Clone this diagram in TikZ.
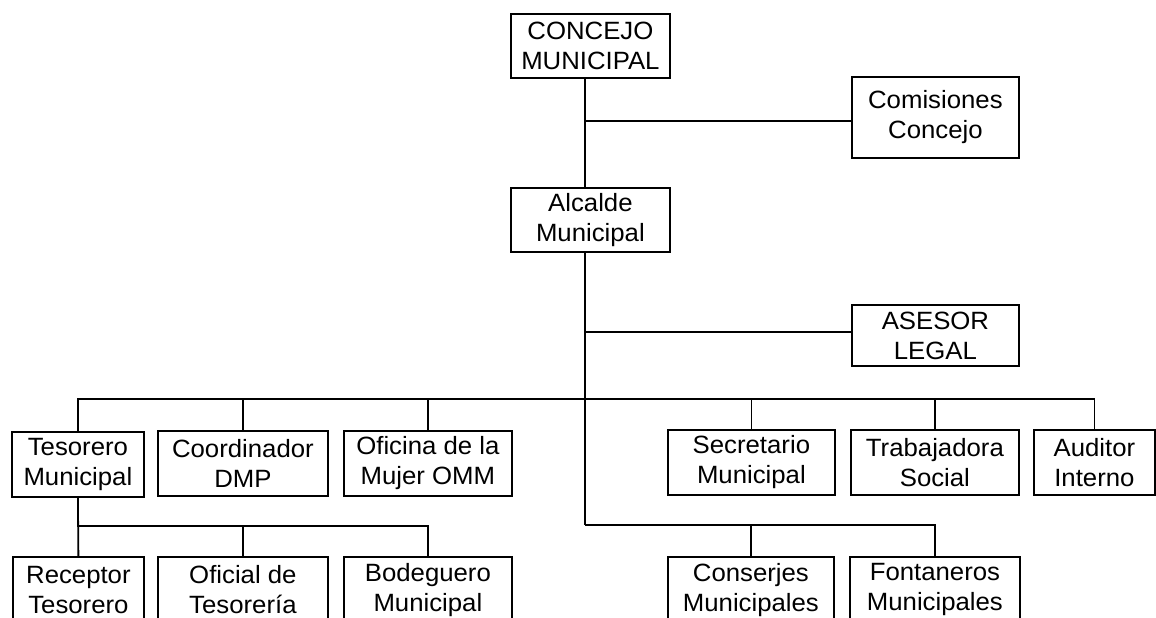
\documentclass[tikz,border=0pt]{standalone}
\usepackage{fontspec}
\setmainfont{Liberation Sans}[FakeStretch=1.03]
\begin{document}
\begin{tikzpicture}[x=1pt,y=-1pt,
  box/.style={draw, line width=1.8pt, inner sep=0pt, align=center, anchor=north west,
    font=\fontsize{25}{30}\selectfont},
  conn/.style={line width=1.8pt}]
\useasboundingbox (0,0) rectangle (1156,618);
\clip (0,0) rectangle (1156,618);
\fill[white] (0,0) rectangle (1156,618);
% top level
\node[box, minimum width=159pt, minimum height=64pt] (concejo) at (510,13) {CONCEJO\\MUNICIPAL};
\node[box, minimum width=167pt, minimum height=81pt] (comisiones) at (851,76) {Comisiones\\Concejo};
\node[box, minimum width=159pt, minimum height=64pt] (alcalde) at (510,187) {Alcalde\\Municipal};
\node[box, minimum width=167pt, minimum height=61pt] (asesor) at (851,304) {ASESOR\\LEGAL};
% second level
\node[box, minimum width=132pt, minimum height=65pt] (tesorero) at (11,431) {Tesorero\\Municipal};
\node[box, minimum width=170pt, minimum height=65pt] (coord) at (157,430) {Coordinador\\DMP};
\node[box, minimum width=168pt, minimum height=65pt] (oficina) at (343,430) {Oficina de la\\Mujer OMM};
\node[box, minimum width=167pt, minimum height=65pt] (secretario) at (667,429) {Secretario\\Municipal};
\node[box, minimum width=168pt, minimum height=65pt] (trabajadora) at (850,429) {Trabajadora\\Social};
\node[box, minimum width=121pt, minimum height=65pt] (auditor) at (1033,429) {Auditor\\Interno};
% third level
\node[box, minimum width=131pt, minimum height=66pt] (receptor) at (12,556) {Receptor\\Tesorero};
\node[box, minimum width=170pt, minimum height=66pt] (oficial) at (157,556) {Oficial de\\Tesorería};
\node[box, minimum width=168pt, minimum height=66pt] (bodeguero) at (343,556) {Bodeguero\\Municipal};
\node[box, minimum width=166pt, minimum height=66pt] (conserjes) at (667,556) {Conserjes\\Municipales};
\node[box, minimum width=170pt, minimum height=66pt] (fontaneros) at (849,556) {Fontaneros\\Municipales};
% junctions
\coordinate (j1) at (585,121);
\coordinate (j2) at (585,332);
\coordinate (j3) at (585,399);
\coordinate (j4) at (585,525);
\coordinate (k1) at (77,526);
% connectors
\draw[conn] (concejo.south -| j1) -- (alcalde.north -| j1);
\draw[conn] (j1) -- (comisiones.west |- j1);
\draw[conn] (alcalde.south -| j2) -- (j4);
\draw[conn] (j2) -- (asesor.west |- j2);
\draw[conn] (tesorero.north) |- (j3) -| (auditor.north);
\draw[conn] (coord.north) -- (coord.north |- j3);
\draw[conn] (oficina.north) -- (oficina.north |- j3);
\draw[conn] (secretario.north) -- (secretario.north |- j3);
\draw[conn] (trabajadora.north) -- (trabajadora.north |- j3);
\draw[conn] (tesorero.south) -- (receptor.north);
\draw[conn] (k1) -| (bodeguero.north);
\draw[conn] (oficial.north) -- (oficial.north |- k1);
\draw[conn] (j4) -| (fontaneros.north);
\draw[conn] (conserjes.north) -- (conserjes.north |- j4);
\end{tikzpicture}
\end{document}
